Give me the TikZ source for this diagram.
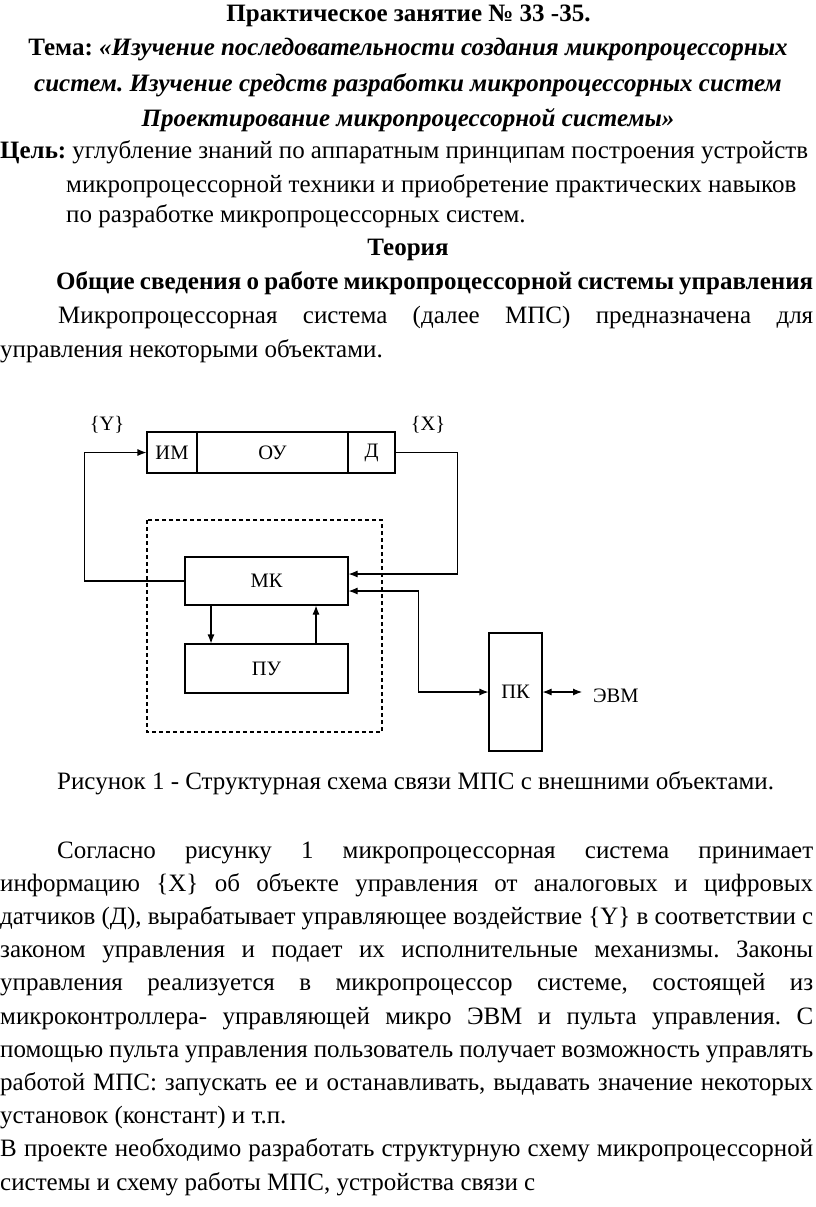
\documentclass[tikz,border=0pt]{standalone}
\usepackage{fontspec}
\setmainfont{Liberation Serif}
\usetikzlibrary{arrows.meta, positioning}
\frenchspacing

\begin{document}
\begin{tikzpicture}[x=1pt, y=-1pt, >={Latex[length=9pt,width=7pt]},
    txt/.style={inner sep=0, font=\fontsize{25}{29}\selectfont},
    blk/.style={draw, line width=1.1pt, inner sep=0, minimum height=41pt, font=\fontsize{20.5}{24}\selectfont},
    lbl/.style={inner sep=0, font=\fontsize{20.5}{24}\selectfont},
    lnk/.style={line width=1.1pt}]
\useasboundingbox (0,0) rectangle (816,1207);
% heading
\node[txt, anchor=base] (title) at (408.5, 22) {\textbf{Практическое занятие № 33 -35.}};
\node[txt, anchor=base] (tema1) at (408, 56) {\textbf{Тема: \textit{«Изучение последовательности создания микропроцессорных}}};
\node[txt, anchor=base] (tema2) at (408, 91) {\textbf{\textit{систем. Изучение средств разработки микропроцессорных систем}}};
\node[txt, anchor=base] (tema3) at (408, 126) {\textbf{\textit{Проектирование микропроцессорной системы»}}};
\node[txt, anchor=base west] (goal1) at (0, 158) {\makebox[808pt][s]{\textbf{Цель:} углубление знаний по аппаратным принципам построения устройств}};
\node[txt, anchor=base west] (goal2) at (66, 192) {микропроцессорной техники и приобретение практических навыков};
\node[txt, anchor=base west] (goal3) at (66, 222) {по разработке микропроцессорных систем.};
\node[txt, anchor=base] (theory) at (408, 255) {\textbf{Теория}};
\node[txt, anchor=base west] (sect) at (56, 289) {\makebox[757pt][s]{\textbf{Общие сведения о работе микропроцессорной системы управления}}};
\node[txt, anchor=base west] (par1) at (58, 323) {\makebox[755pt][s]{Микропроцессорная система (далее МПС) предназначена для}};
\node[txt, anchor=base west] (par2) at (0, 357) {управления некоторыми объектами.};

% figure 1
\node[blk, minimum width=50pt] (im) at (172, 452.5) {ИМ};
\node[blk, minimum width=151pt] (ou) at (272.5, 452.5) {ОУ};
\node[blk, minimum width=47pt] (d) at (371.5, 452.5) {Д};
\node[lbl] (y) at (107, 425) {\{Y\}};
\node[lbl] (x) at (428, 425) {\{X\}};
\draw[lnk, dashed, dash pattern=on 4pt off 3pt] (147, 520) rectangle (382, 732);
\node[blk, minimum width=163pt, minimum height=48pt] (mk) at (266.5, 581) {МК};
\node[blk, minimum width=163pt, minimum height=49pt] (pu) at (266.5, 668.5) {ПУ};
\node[blk, minimum width=53pt, minimum height=118pt] (pk) at (515.5, 692) {ПК};
\node[lbl, anchor=west] (evm) at (593, 696) {ЭВМ};
\draw[lnk, ->] (mk.west) -- ++(-100, 0) |- (im.west);
\draw[lnk, ->] (d.east) -- ++(62, 0) |- ([yshift=7pt]mk.east);
\draw[lnk, <->] ([yshift=-10pt]mk.east) -- ++(70, 0) |- (pk.west);
\draw[lnk, <->] (pk.east) -- ([xshift=-11pt]evm.west |- pk.east);
\draw[lnk, ->] ([xshift=-55.5pt]mk.south) -- ([xshift=-55.5pt]pu.north);
\draw[lnk, ->] ([xshift=49.5pt]pu.north) -- ([xshift=49.5pt]mk.south);
\node[txt, anchor=base west] (cap) at (57, 789) {Рисунок 1 - Структурная схема связи МПС с внешними объектами.};

% text after figure
\node[txt, anchor=base west] (l1) at (57, 858) {\makebox[756pt][s]{Согласно рисунку 1 микропроцессорная система принимает}};
\node[txt, anchor=base west] (l2) at (0, 891.2) {\makebox[813pt][s]{информацию \{X\} об объекте управления от аналоговых и цифровых}};
\node[txt, anchor=base west] (l3) at (0, 924.4) {\makebox[813pt][s]{датчиков (Д), вырабатывает управляющее воздействие \{Y\} в соответствии с}};
\node[txt, anchor=base west] (l4) at (0, 957.6) {\makebox[813pt][s]{законом управления и подает их исполнительные механизмы. Законы}};
\node[txt, anchor=base west] (l5) at (0, 990.8) {\makebox[813pt][s]{управления реализуется в микропроцессор системе, состоящей из}};
\node[txt, anchor=base west] (l6) at (0, 1024) {\makebox[813pt][s]{микроконтроллера- управляющей микро ЭВМ и пульта управления. С}};
\node[txt, anchor=base west] (l7) at (0, 1057.2) {\makebox[813pt][s]{помощью пульта управления пользователь получает возможность управлять}};
\node[txt, anchor=base west] (l8) at (0, 1090.4) {\makebox[813pt][s]{работой МПС: запускать ее и останавливать, выдавать значение некоторых}};
\node[txt, anchor=base west] (l9) at (0, 1123.6) {установок (констант) и т.п.};
\node[txt, anchor=base west] (l10) at (0, 1156.8) {\makebox[813pt][s]{В проекте необходимо разработать структурную схему микропроцессорной}};
\node[txt, anchor=base west] (l11) at (0, 1190) {системы и схему работы МПС, устройства связи с};
\end{tikzpicture}
\end{document}
